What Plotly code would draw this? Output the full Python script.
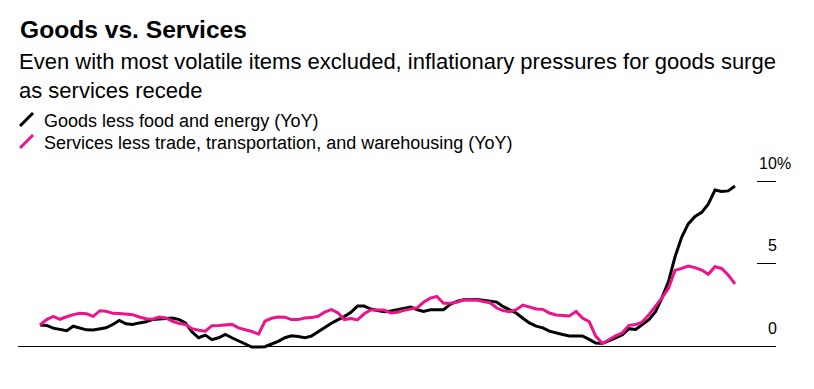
import pandas as pd
import plotly.graph_objects as go

# ---- data (monthly, YoY %) ----
start_month = "2013-05-01"
goods = [1.27, 1.25, 1.08, 1.0, 0.93, 1.2, 1.08, 0.98, 0.97, 1.03,
         1.1, 1.3, 1.55, 1.35, 1.3, 1.4, 1.47, 1.6, 1.64, 1.68,
         1.7, 1.6, 1.4, 0.85, 0.5, 0.66, 0.38, 0.5, 0.7, 0.5,
         0.32, 0.15, -0.06, -0.06, -0.04, 0.12, 0.28, 0.5, 0.62, 0.58,
         0.5, 0.6, 0.87, 1.08, 1.38, 1.6, 1.78, 2.04, 2.42, 2.42,
         2.24, 2.15, 2.08, 2.12, 2.2, 2.3, 2.36, 2.2, 2.1, 2.2,
         2.22, 2.2, 2.52, 2.7, 2.8, 2.83, 2.82, 2.78, 2.72, 2.66,
         2.4, 2.2, 2.0, 1.68, 1.4, 1.2, 1.1, 0.9, 0.78, 0.7,
         0.61, 0.61, 0.61, 0.4, 0.18, 0.15, 0.3, 0.5, 0.68, 1.05,
         1.0, 1.3, 1.6, 2.1, 2.89, 3.9, 5.4, 6.6, 7.4, 7.85,
         8.1, 8.6, 9.45, 9.36, 9.4, 9.7]
services = [1.27, 1.6, 1.8, 1.62, 1.77, 1.9, 1.98, 1.95, 1.8, 2.14,
            2.1, 1.98, 1.97, 1.93, 1.9, 1.76, 1.65, 1.62, 1.75, 1.7,
            1.5, 1.36, 1.3, 1.05, 0.95, 0.9, 1.23, 1.25, 1.28, 1.31,
            1.1, 1.0, 0.88, 0.72, 1.5, 1.68, 1.76, 1.75, 1.6, 1.6,
            1.7, 1.72, 1.8, 2.05, 2.2, 2.0, 1.6, 1.67, 1.58, 1.95,
            2.18, 2.18, 2.18, 2.0, 2.05, 2.16, 2.24, 2.32, 2.65, 2.9,
            3.0, 2.59, 2.59, 2.65, 2.79, 2.79, 2.79, 2.7, 2.62, 2.3,
            2.15, 2.08, 2.2, 2.48, 2.38, 2.24, 2.22, 2.0, 1.88, 1.83,
            1.82, 2.1, 1.7, 1.48, 0.6, 0.15, 0.4, 0.62, 0.8, 1.25,
            1.3, 1.45, 1.9, 2.4, 2.9, 3.5, 4.58, 4.7, 4.85, 4.75,
            4.6, 4.35, 4.8, 4.7, 4.3, 3.76]
dates = pd.date_range(start_month, periods=len(goods), freq="MS")

names = ["Goods less food and energy (YoY)",
         "Services less trade, transportation, and warehousing (YoY)"]
tick_vals = [0, 5, 10]
tick_text = ["0", "5", "10"]

BLACK = "#000000"
PINK = "#ec138c"
FONT = "Liberation Sans, Arial, sans-serif"

W, H = 814, 389
OFF = 8  # page body margin offset
# target screen positions of plot area
SX0, SX1, SY0, SY1 = 18, 776, 175, 350
L = SX0 - OFF
R = W - (SX1 - OFF)
T = SY0 - OFF
B = H - (SY1 - OFF)
plot_w = W - L - R
plot_h = H - T - B

def px_x(x):
    return (x - SX0) / plot_w

def px_y(y):
    return (SY1 - y) / plot_h

# y range: 16.5 px per unit, 0 at screen pixel 346
ppu = 16.5
y_lo = -(SY1 - 346) / ppu
y_hi = y_lo + plot_h / ppu

month_days = 30.44
x_lo = dates[0] - pd.Timedelta(days=3.32 * month_days)
x_hi = dates[-1] + pd.Timedelta(days=6.2 * month_days)

fig = go.Figure()
fig.add_trace(go.Scatter(x=dates, y=goods, mode="lines", name=names[0],
                         line=dict(color=BLACK, width=3), showlegend=False))
fig.add_trace(go.Scatter(x=dates, y=services, mode="lines", name=names[1],
                         line=dict(color=PINK, width=3), showlegend=False))

fig.update_layout(
    width=W, height=H,
    margin=dict(l=L, r=R, t=T, b=B, pad=0),
    paper_bgcolor="white", plot_bgcolor="white",
    font=dict(family=FONT, color="#000000"),
    xaxis=dict(range=[x_lo, x_hi], showticklabels=False, showgrid=False,
               zeroline=False, showline=False, ticks=""),
    yaxis=dict(range=[y_lo, y_hi], side="right", showgrid=False,
               zeroline=True, zerolinecolor="#000000", zerolinewidth=1,
               showline=False, ticks="inside", ticklen=19, tickwidth=1,
               tickcolor="#000000", tickvals=tick_vals, showticklabels=False),
)

anns = []
# title + subtitle
anns.append(dict(xref="paper", yref="paper", x=px_x(18), y=px_y(29),
                 xanchor="left", yanchor="middle", showarrow=False,
                 text="<b>Goods vs. Services</b>",
                 font=dict(size=24.6, family=FONT, color="#000000")))
anns.append(dict(xref="paper", yref="paper", x=px_x(17), y=px_y(76),
                 xanchor="left", yanchor="middle", showarrow=False, align="left",
                 text="Even with most volatile items excluded, inflationary pressures for goods surge<br>as services recede",
                 font=dict(size=22, family=FONT, color="#000000")))
# legend text
for nm, yy in zip(names, [121, 143]):
    anns.append(dict(xref="paper", yref="paper", x=px_x(42), y=px_y(yy),
                     xanchor="left", yanchor="middle", showarrow=False,
                     text=nm, font=dict(size=18, family=FONT, color="#000000")))
# y tick labels above tick lines
for v, t in zip(tick_vals, tick_text):
    anns.append(dict(xref="paper", yref="y", x=px_x(777), y=v,
                     xanchor="right", yanchor="bottom", showarrow=False,
                     text=t, yshift=7.5, xshift=2,
                     font=dict(size=16, family=FONT, color="#000000")))
anns.append(dict(xref="paper", yref="y", x=px_x(777), y=tick_vals[-1],
                 xanchor="left", yanchor="bottom", showarrow=False,
                 text="%", yshift=7.5, xshift=-2,
                 font=dict(size=16, family=FONT, color="#000000")))
fig.update_layout(annotations=anns)

# legend slash icons
shapes = []
for col, (ya, yb) in zip([BLACK, PINK], [(126, 113), (148, 135)]):
    shapes.append(dict(type="line", xref="paper", yref="paper",
                       x0=px_x(20), y0=px_y(ya), x1=px_x(33), y1=px_y(yb),
                       line=dict(color=col, width=3)))
fig.update_layout(shapes=shapes)

fig.write_html("out.html")
